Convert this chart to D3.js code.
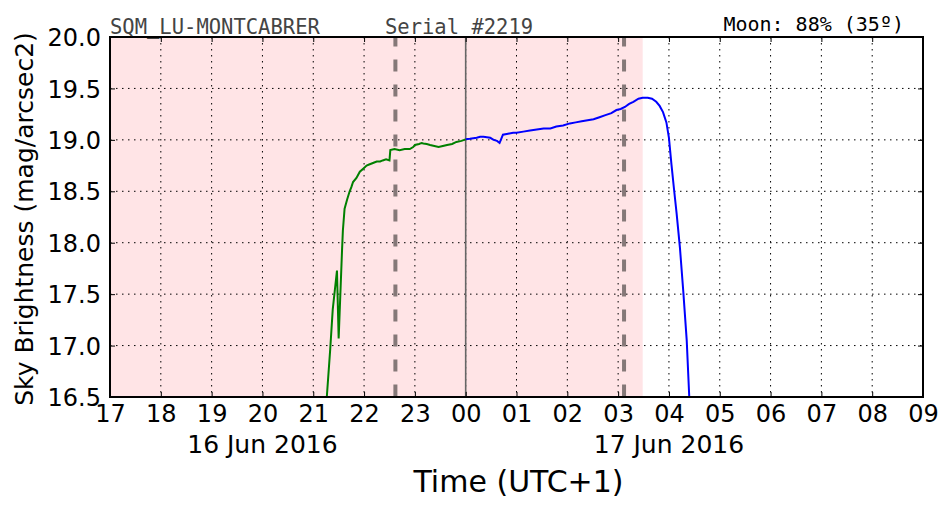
<!DOCTYPE html>
<html><head><meta charset="utf-8">
<script src="https://cdn.jsdelivr.net/npm/d3@7"></script>
<style>body{margin:0;background:#fff}svg{display:block}</style>
</head><body><svg id="c" width="952" height="512"></svg>
<script>
const hourTicks = ["17","18","19","20","21","22","23","00","01","02","03","04","05","06","07","08","09"];
const yTicks = [16.5,17.0,17.5,18.0,18.5,19.0,19.5,20.0];
const dateLabels = [{t:"2016-06-16T20:00",label:"16 Jun 2016"},{t:"2016-06-17T04:00",label:"17 Jun 2016"}];
const eveningTimes = ["2016-06-16T21:16","2016-06-16T21:20","2016-06-16T21:23","2016-06-16T21:28","2016-06-16T21:30","2016-06-16T21:34","2016-06-16T21:35","2016-06-16T21:37","2016-06-16T21:40","2016-06-16T21:43","2016-06-16T21:45","2016-06-16T21:47","2016-06-16T21:51","2016-06-16T21:55","2016-06-16T21:59","2016-06-16T22:03","2016-06-16T22:06","2016-06-16T22:09","2016-06-16T22:12","2016-06-16T22:15","2016-06-16T22:19","2016-06-16T22:22","2016-06-16T22:26","2016-06-16T22:30","2016-06-16T22:31","2016-06-16T22:36","2016-06-16T22:42","2016-06-16T22:48","2016-06-16T22:54","2016-06-16T22:58","2016-06-16T23:00","2016-06-16T23:05","2016-06-16T23:08","2016-06-16T23:10","2016-06-16T23:14","2016-06-16T23:18","2016-06-16T23:23","2016-06-16T23:28","2016-06-16T23:33","2016-06-16T23:38","2016-06-16T23:44","2016-06-16T23:49","2016-06-16T23:55","2016-06-17T00:00"];
const eveningMag = [16.50,16.96,17.35,17.73,17.07,17.93,18.12,18.33,18.42,18.50,18.54,18.59,18.63,18.69,18.72,18.75,18.76,18.77,18.78,18.79,18.79,18.80,18.81,18.80,18.90,18.91,18.90,18.91,18.91,18.93,18.95,18.96,18.97,18.965,18.96,18.95,18.94,18.93,18.94,18.95,18.96,18.98,18.99,19.005];
const morningTimes = ["2016-06-17T00:00","2016-06-17T00:05","2016-06-17T00:09","2016-06-17T00:13","2016-06-17T00:17","2016-06-17T00:21","2016-06-17T00:25","2016-06-17T00:29","2016-06-17T00:33","2016-06-17T00:37","2016-06-17T00:40","2016-06-17T00:42","2016-06-17T00:44","2016-06-17T00:50","2016-06-17T00:56","2016-06-17T01:00","2016-06-17T01:08","2016-06-17T01:16","2016-06-17T01:24","2016-06-17T01:32","2016-06-17T01:40","2016-06-17T01:47","2016-06-17T01:55","2016-06-17T02:03","2016-06-17T02:10","2016-06-17T02:17","2016-06-17T02:24","2016-06-17T02:31","2016-06-17T02:38","2016-06-17T02:45","2016-06-17T02:52","2016-06-17T02:58","2016-06-17T03:03","2016-06-17T03:08","2016-06-17T03:13","2016-06-17T03:18","2016-06-17T03:24","2016-06-17T03:29","2016-06-17T03:35","2016-06-17T03:40","2016-06-17T03:45","2016-06-17T03:49","2016-06-17T03:53","2016-06-17T03:57","2016-06-17T04:00","2016-06-17T04:03","2016-06-17T04:06","2016-06-17T04:09","2016-06-17T04:13","2016-06-17T04:17","2016-06-17T04:21","2016-06-17T04:24"];
const morningMag = [19.005,19.01,19.015,19.02,19.03,19.03,19.025,19.02,19.00,18.99,18.97,19.01,19.05,19.06,19.07,19.07,19.08,19.09,19.10,19.11,19.11,19.13,19.14,19.16,19.17,19.18,19.19,19.20,19.22,19.24,19.26,19.29,19.30,19.32,19.35,19.37,19.40,19.41,19.41,19.40,19.37,19.33,19.27,19.17,19.02,18.76,18.52,18.29,17.95,17.52,17.05,16.50];
const nightBand = ["2016-06-16T17:00","2016-06-17T03:29"];
const dashedTimes = ["2016-06-16T22:37","2016-06-17T03:07"];
const midnight = "2016-06-17T00:00";
const titleLeft = "SQM_LU-MONTCABRER", titleMid = "Serial #2219", titleRight = "Moon: 88% (35º)";

const P = d3.timeParse("%Y-%m-%dT%H:%M");
const svg = d3.select("#c");
const SANS = '"DejaVu Sans",sans-serif', MONO = '"DejaVu Sans Mono",monospace';
const L=110,R=923,T=37,B=397;
const x = d3.scaleTime().domain([P("2016-06-16T17:00"),P("2016-06-17T09:00")]).range([L,R]);
const y = d3.scaleLinear().domain([16.5,20]).range([B,T]);
const tickDates = d3.timeHour.range(P("2016-06-16T17:00"), d3.timeMinute.offset(P("2016-06-17T09:00"),1));

svg.append("defs").append("clipPath").attr("id","clip").append("rect").attr("x",L).attr("y",T).attr("width",R-L).attr("height",B-T);
svg.append("rect").attr("x",x(P(nightBand[0]))).attr("y",T).attr("width",x(P(nightBand[1]))-x(P(nightBand[0]))).attr("height",B-T).attr("fill","#ffe4e6");

const g = svg.append("g");
g.selectAll(".gx").data(tickDates.slice(1,-1)).join("line").attr("x1",d=>x(d)).attr("x2",d=>x(d)).attr("y1",T).attr("y2",B).attr("stroke","#000").attr("stroke-width",1).attr("stroke-dasharray","1.5,4.5");
g.selectAll(".gy").data(yTicks.slice(1,-1)).join("line").attr("x1",L).attr("x2",R).attr("y1",d=>y(d)).attr("y2",d=>y(d)).attr("stroke","#000").attr("stroke-width",1).attr("stroke-dasharray","1.5,4.5");

svg.append("line").attr("x1",x(P(midnight))).attr("x2",x(P(midnight))).attr("y1",T).attr("y2",B).attr("stroke","#666").attr("stroke-width",1.6);
svg.selectAll(".dl").data(dashedTimes).join("line").attr("x1",d=>x(P(d))).attr("x2",d=>x(P(d))).attr("y1",T).attr("y2",B).attr("stroke","#857878").attr("stroke-width",4).attr("stroke-dasharray","12,13").attr("stroke-dashoffset",2.5);

const line = d3.line().x(d=>x(d[0])).y(d=>y(d[1]));
const cg = svg.append("g").attr("clip-path","url(#clip)");
cg.append("path").datum(eveningTimes.map((t,i)=>[P(t),eveningMag[i]])).attr("d",line).attr("fill","none").attr("stroke","#008000").attr("stroke-width",2);
cg.append("path").datum(morningTimes.map((t,i)=>[P(t),morningMag[i]])).attr("d",line).attr("fill","none").attr("stroke","#0000ff").attr("stroke-width",2);

const xb = d3.axisBottom(x).tickValues(tickDates).tickSize(-5).tickPadding(7).tickFormat(d=>hourTicks[tickDates.findIndex(t=>+t===+d)]);
const xa = svg.append("g").attr("transform",`translate(0,${B})`).call(xb);
xa.select(".domain").remove();
xa.selectAll("text").style("font-family",SANS).style("font-size","24px").attr("fill","#000").attr("dy","0.75em").attr("y",7);
xa.selectAll("line").attr("stroke","#000");
const xt = svg.append("g").attr("transform",`translate(0,${T})`).call(d3.axisTop(x).tickValues(tickDates).tickSize(-5).tickFormat(""));
xt.select(".domain").remove();
const ya = svg.append("g").attr("transform",`translate(${L},0)`).call(d3.axisLeft(y).tickValues(yTicks).tickSize(-5).tickPadding(9).tickFormat(d3.format(".1f")));
ya.select(".domain").remove();
ya.selectAll("text").style("font-family",SANS).style("font-size","24px").attr("fill","#000").attr("dy","0.36em");
const yr = svg.append("g").attr("transform",`translate(${R},0)`).call(d3.axisRight(y).tickValues(yTicks).tickSize(-5).tickFormat(""));
yr.select(".domain").remove();

svg.append("rect").attr("x",L).attr("y",T).attr("width",R-L).attr("height",B-T).attr("fill","none").attr("stroke","#000").attr("stroke-width",2);

svg.selectAll(".dlab").data(dateLabels).join("text").attr("x",d=>x(P(d.t))).attr("y",453).attr("text-anchor","middle").style("font-family",SANS).style("font-size","25px").text(d=>d.label);
svg.append("text").attr("x",(L+R)/2 + 2).attr("y",492).attr("text-anchor","middle").style("font-family",SANS).style("font-size","30px").text("Time (UTC+1)");
svg.append("text").attr("transform",`translate(33,219) rotate(-90)`).attr("text-anchor","middle").style("font-family",SANS).style("font-size","25px").text("Sky Brightness (mag/arcsec2)");

svg.append("text").attr("x",110).attr("y",34).style("font-family",MONO).style("font-size","20.5px").attr("fill","#444").text(titleLeft);
svg.append("text").attr("x",385).attr("y",34).style("font-family",MONO).style("font-size","20.5px").attr("fill","#444").text(titleMid);
svg.append("text").attr("x",904).attr("y",31).attr("text-anchor","end").style("font-family",MONO).style("font-size","20px").attr("fill","#000").text(titleRight);
</script></body></html>
